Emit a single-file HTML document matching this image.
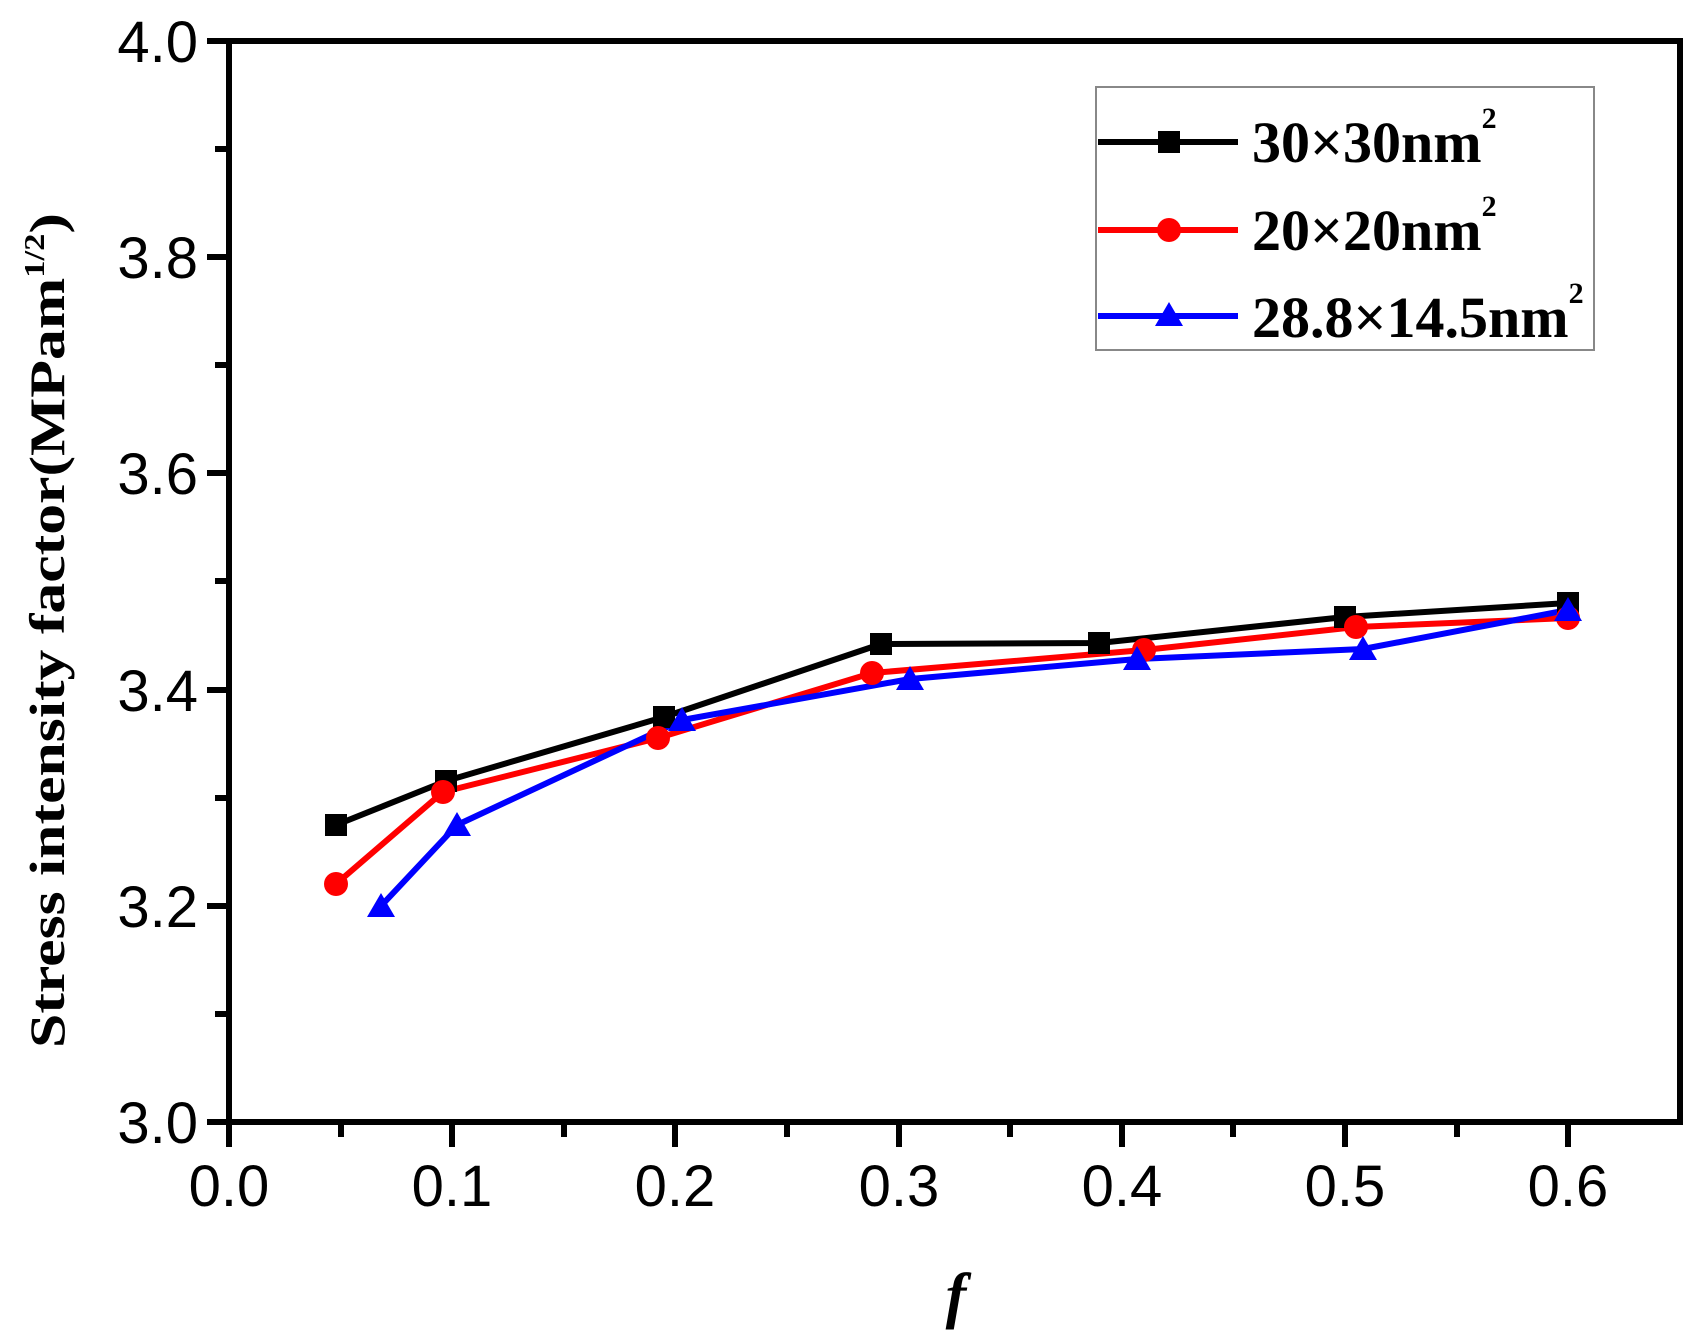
<!DOCTYPE html>
<html><head><meta charset="utf-8"><style>html,body{margin:0;padding:0;background:#fff}svg{display:block}</style></head>
<body>
<svg width="1704" height="1334" viewBox="0 0 1704 1334" xmlns="http://www.w3.org/2000/svg">
<rect width="1704" height="1334" fill="#fff"/>
<g stroke="#000" stroke-width="6" fill="none">
<rect x="229" y="41" width="1451" height="1081"/>
<path d="M207 1122H229M207 906H229M207 690H229M207 473H229M207 257H229M207 41H229"/>
<path d="M215 1014H229M215 798H229M215 581H229M215 365H229M215 149H229"/>
<path d="M229 1122V1147M452 1122V1147M675 1122V1147M899 1122V1147M1122 1122V1147M1345 1122V1147M1568 1122V1147"/>
<path d="M341 1122V1137M564 1122V1137M787 1122V1137M1010 1122V1137M1233 1122V1137M1457 1122V1137"/>
</g>
<g font-family="Liberation Sans, sans-serif" font-size="58" fill="#000" text-anchor="end">
<text x="198" y="1143">3.0</text><text x="198" y="927">3.2</text><text x="198" y="711">3.4</text>
<text x="198" y="494">3.6</text><text x="198" y="278">3.8</text><text x="198" y="62">4.0</text>
</g>
<g font-family="Liberation Sans, sans-serif" font-size="58" fill="#000" text-anchor="middle">
<text x="229" y="1206">0.0</text><text x="452" y="1206">0.1</text><text x="675" y="1206">0.2</text>
<text x="899" y="1206">0.3</text><text x="1122" y="1206">0.4</text><text x="1345" y="1206">0.5</text><text x="1568" y="1206">0.6</text>
</g>
<text x="956" y="1316" font-family="Liberation Serif, serif" font-style="italic" font-weight="bold" font-size="62" text-anchor="middle">f</text>
<text transform="translate(64,1048) rotate(-90)" font-family="Liberation Serif, serif" font-weight="bold" font-size="50" textLength="835" lengthAdjust="spacingAndGlyphs">Stress intensity factor(MPam<tspan font-size="28" dy="-20">1/2</tspan><tspan dy="20">)</tspan></text>
<g fill="none" stroke-width="6" stroke-linejoin="round">
<polyline stroke="#000" points="336,825 446,781 664,717 881,644 1099,643 1345,617 1568,603"/>
<polyline stroke="#f00" points="336,884 443,792 658,738 872,673 1144,650 1356,627 1568,618"/>
<polyline stroke="#00f" points="381,906 457,825 682,720 910,679 1137,659 1363,649 1568,610"/>
</g>
<g fill="#000">
<rect x="325" y="814" width="22" height="22"/><rect x="435" y="770" width="22" height="22"/><rect x="653" y="706" width="22" height="22"/>
<rect x="870" y="633" width="22" height="22"/><rect x="1088" y="632" width="22" height="22"/><rect x="1334" y="606" width="22" height="22"/><rect x="1557" y="592" width="22" height="22"/>
</g>
<g fill="#f00">
<circle cx="336" cy="884" r="12"/><circle cx="443" cy="792" r="12"/><circle cx="658" cy="738" r="12"/><circle cx="872" cy="673" r="12"/>
<circle cx="1144" cy="650" r="12"/><circle cx="1356" cy="627" r="12"/><circle cx="1568" cy="618" r="12"/>
</g>
<g fill="#00f">
<path d="M381 893l14 24h-28z"/><path d="M457 812l14 24h-28z"/><path d="M682 707l14 24h-28z"/><path d="M910 666l14 24h-28z"/>
<path d="M1137 646l14 24h-28z"/><path d="M1363 636l14 24h-28z"/><path d="M1568 597l14 24h-28z"/>
</g>
<rect x="1096" y="87" width="498" height="263" fill="#fff" stroke="#888" stroke-width="2"/>
<g stroke-width="6">
<line x1="1098" y1="142" x2="1238" y2="142" stroke="#000"/>
<line x1="1098" y1="230" x2="1238" y2="230" stroke="#f00"/>
<line x1="1098" y1="316" x2="1238" y2="316" stroke="#00f"/>
</g>
<rect x="1158" y="131" width="22" height="22" fill="#000"/>
<circle cx="1169" cy="230" r="12" fill="#f00"/>
<path d="M1169 302l14 24h-28z" fill="#00f"/>
<g font-family="Liberation Serif, serif" font-weight="bold" font-size="58" fill="#000">
<text x="1252" y="162">30×30nm<tspan font-size="30" dy="-34">2</tspan></text>
<text x="1252" y="250">20×20nm<tspan font-size="30" dy="-34">2</tspan></text>
<text x="1252" y="337">28.8×14.5nm<tspan font-size="30" dy="-34">2</tspan></text>
</g>
</svg>
</body></html>
